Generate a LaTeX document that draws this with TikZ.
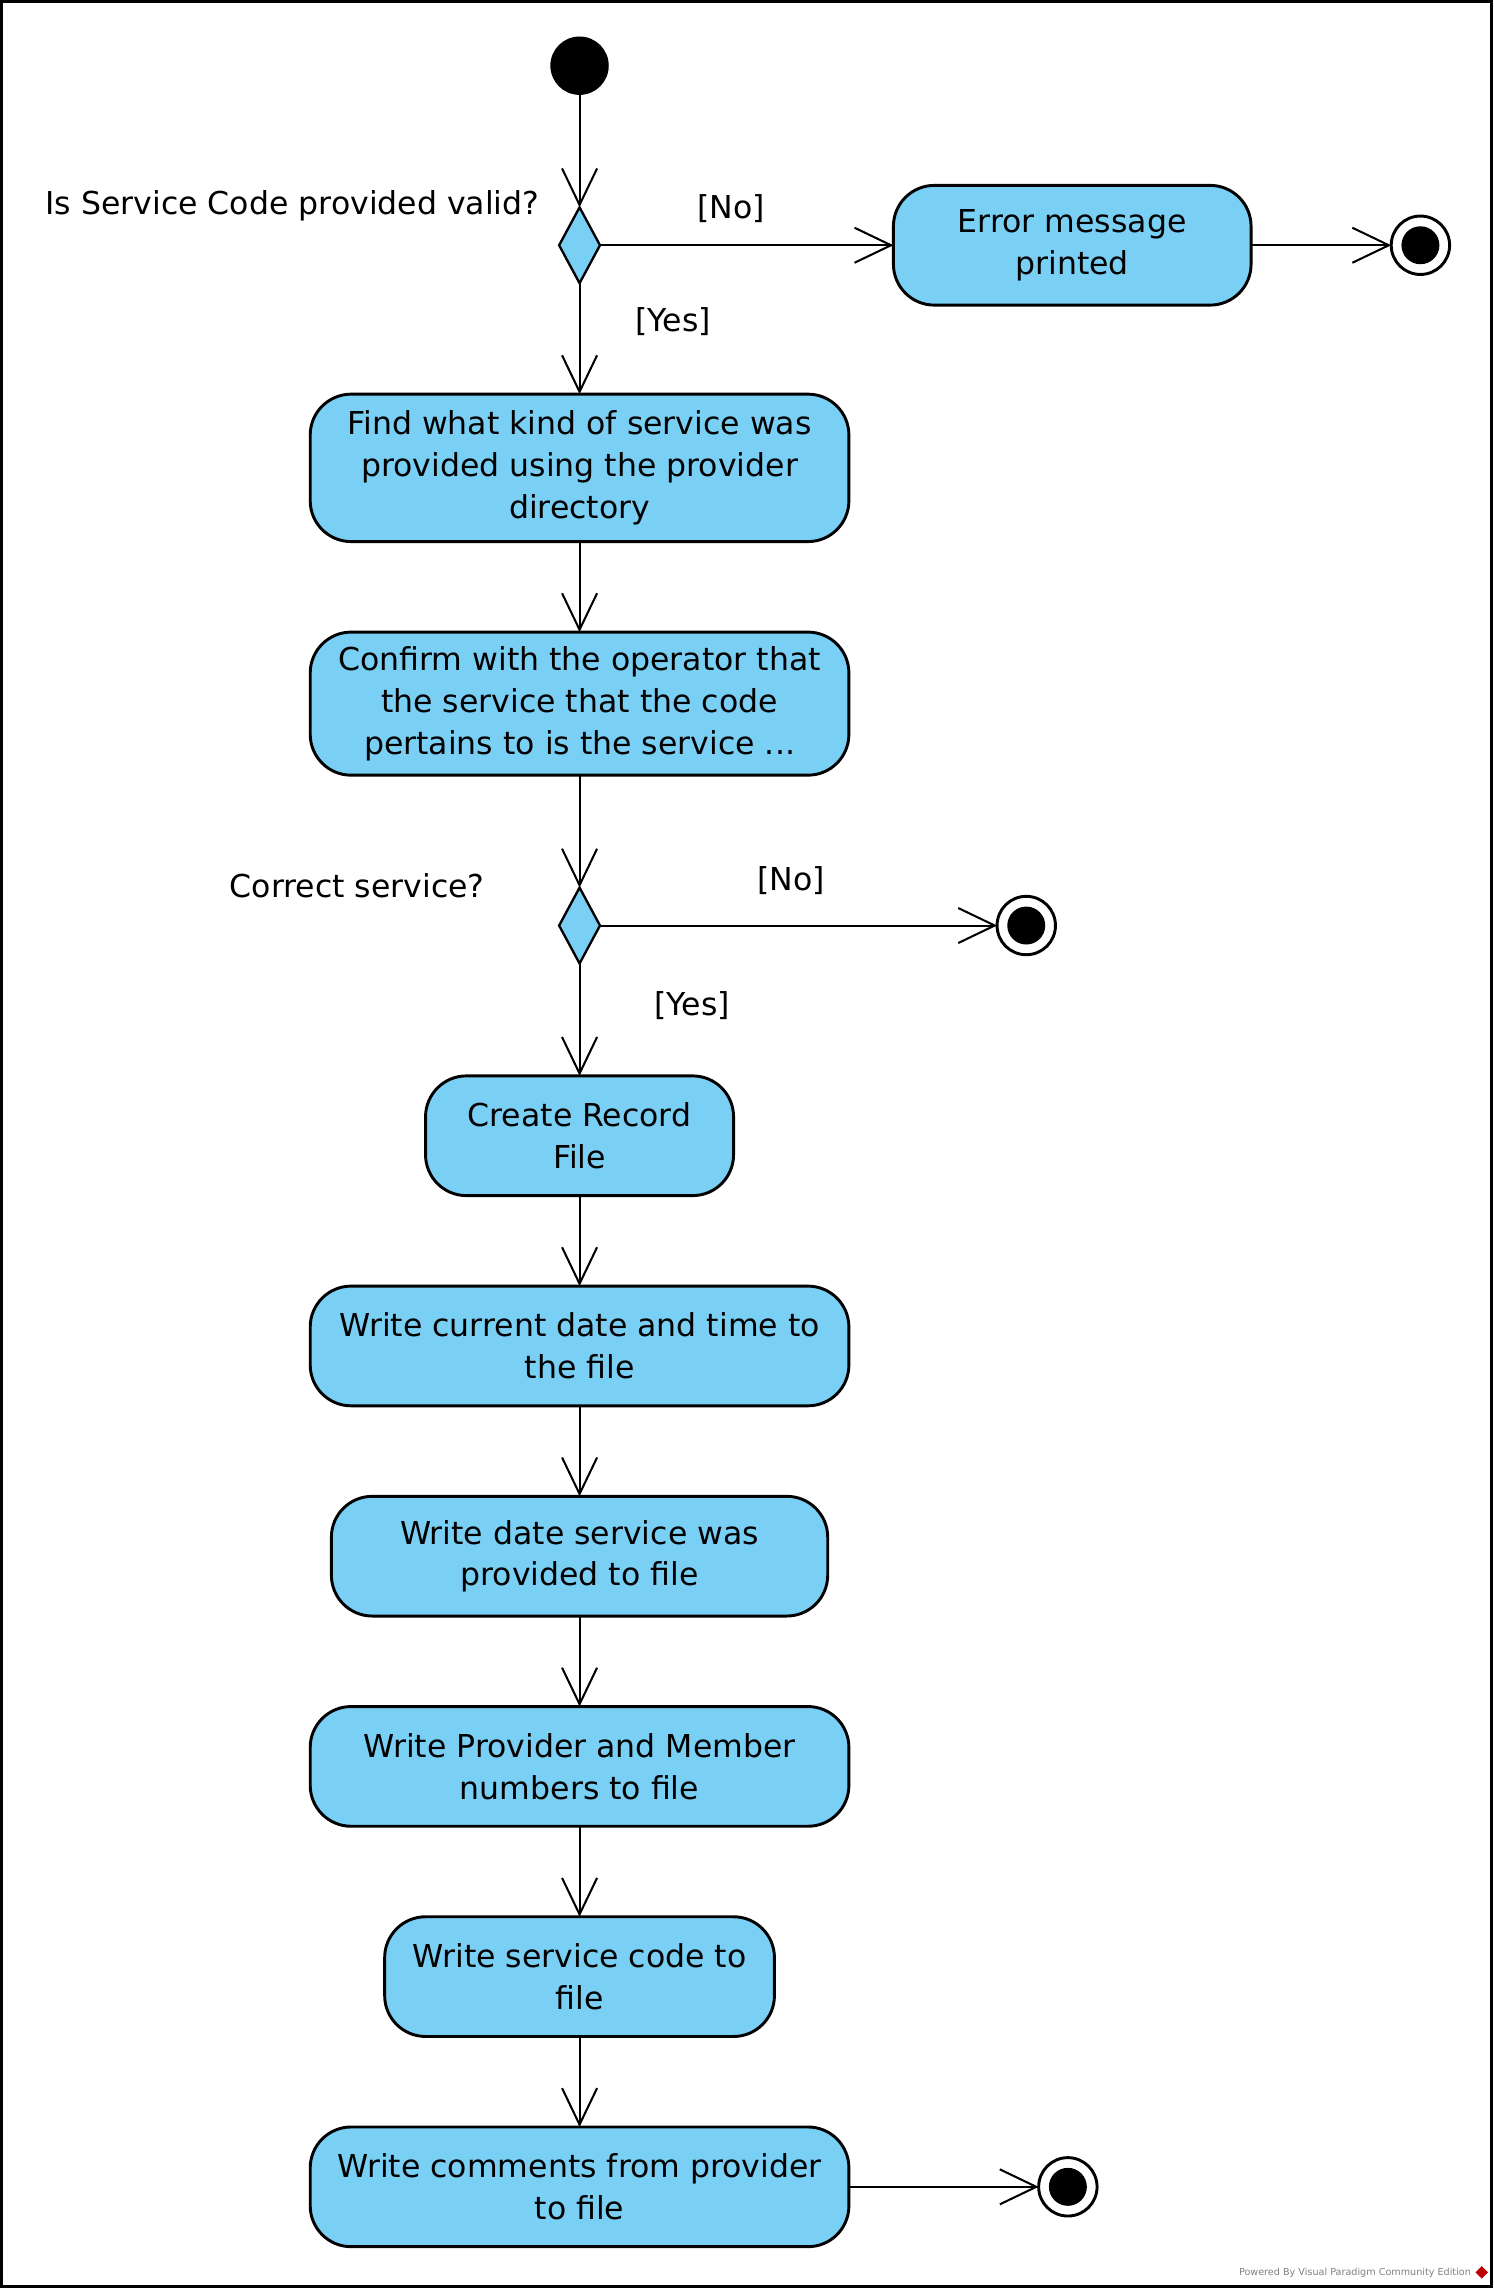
\documentclass[tikz,border=0pt]{standalone}
\usepackage{fontspec}
\setmainfont{DejaVu Sans}
\usetikzlibrary{arrows.meta, positioning, shapes.geometric}
\definecolor{actblue}{RGB}{122,207,245}

\begin{document}
\begin{tikzpicture}
        [font=\fontsize{10.8}{14.3}\selectfont,
         actsty/.style={rectangle,
                        rounded corners=14pt,
                        align=center,
                        minimum height=41pt,
                        outer sep=0pt,
                        line width=1pt,
                        draw=black,
                        fill=actblue},
         decsty/.style={diamond,
                        inner sep=0pt,
                        outer sep=0pt,
                        minimum width=14pt,
                        minimum height=26pt,
                        line width=0.8pt,
                        draw=black,
                        fill=actblue},
         startsty/.style={circle,
                          inner sep=0pt,
                          outer sep=0pt,
                          minimum size=20pt,
                          fill=black},
         endsty/.style={circle,
                        inner sep=0pt,
                        outer sep=0pt,
                        minimum size=20pt,
                        line width=1pt,
                        draw=black,
                        fill=white,
                        path picture={\fill[black] (path picture bounding box.center) circle (6.5pt);}},
         pre/.style={<-, >={Straight Barb[length=12.5pt, width=12pt]}, line width=0.7pt}]

        \useasboundingbox (0pt, 0pt) rectangle (511.7pt, -784pt);
        \draw[line width=1pt] (0.5pt, -0.5pt) rectangle (510.7pt, -783pt);

        \coordinate (start coord) at (198.5pt, -22.5pt);
        \newcommand{\actgap}{31pt}
        \newcommand{\decgap}{38.5pt}

        \node[startsty] (start) at (start coord) {};

        \node[decsty, anchor=north] (valid dec) at (start.south) [yshift=-\decgap] {}
                edge [pre] (start);

        \node[anchor=east] (valid label) at (valid dec.west) [xshift=-3.2pt, yshift=13.5pt]
                {Is Service Code provided valid?};

        \node[actsty, anchor=west, minimum width=122.5pt] (error act) at (valid dec.east) [xshift=100.5pt]
                {Error message\\printed}
                edge [pre] (valid dec);

        \node (valid no) at (valid dec.east) [xshift=45pt, yshift=12.5pt] {[No]};

        \node[endsty, anchor=west] (error end) at (error act.east) [xshift=48pt] {}
                edge [pre] (error act);

        \node[actsty, anchor=north, minimum width=184.5pt, minimum height=50.5pt] (find act)
                at (valid dec.south) [yshift=-38pt]
                {Find what kind of service was\\provided using the provider\\directory}
                edge [pre] (valid dec);

        \node (valid yes) at (valid dec.south) [xshift=32pt, yshift=-13pt] {[Yes]};

        \node[actsty, anchor=north, minimum width=184.5pt, minimum height=49pt] (confirm act)
                at (find act.south) [yshift=-\actgap]
                {Confirm with the operator that\\the service that the code\\pertains to is the service ...}
                edge [pre] (find act);

        \node[decsty, anchor=north] (service dec) at (confirm act.south) [yshift=-\decgap] {}
                edge [pre] (confirm act);

        \node[anchor=east] (service label) at (service dec.west) [xshift=-22pt, yshift=13.5pt]
                {Correct service?};

        \node[endsty, anchor=west] (service end) at (service dec.east) [xshift=136pt] {}
                edge [pre] (service dec);

        \node (service no) at (service dec.east) [xshift=65.5pt, yshift=15.5pt] {[No]};

        \node[actsty, anchor=north, minimum width=105.5pt] (record act)
                at (service dec.south) [yshift=-\decgap]
                {Create Record\\File}
                edge [pre] (service dec);

        \node (service yes) at (service dec.south) [xshift=38.5pt, yshift=-14.5pt] {[Yes]};

        \node[actsty, anchor=north, minimum width=184.5pt] (date act)
                at (record act.south) [yshift=-\actgap]
                {Write current date and time to\\the file}
                edge [pre] (record act);

        \node[actsty, anchor=north, minimum width=170pt] (served act)
                at (date act.south) [yshift=-\actgap]
                {Write date service was\\provided to file}
                edge [pre] (date act);

        \node[actsty, anchor=north, minimum width=184.5pt] (numbers act)
                at (served act.south) [yshift=-\actgap]
                {Write Provider and Member\\numbers to file}
                edge [pre] (served act);

        \node[actsty, anchor=north, minimum width=133.5pt] (code act)
                at (numbers act.south) [yshift=-\actgap]
                {Write service code to\\file}
                edge [pre] (numbers act);

        \node[actsty, anchor=north, minimum width=184.5pt] (comments act)
                at (code act.south) [yshift=-\actgap]
                {Write comments from provider\\to file}
                edge [pre] (code act);

        \node[endsty, anchor=west] (comments end) at (comments act.east) [xshift=65pt] {}
                edge [pre] (comments act);

        % watermark
        \node[anchor=east, inner sep=0pt, text=gray, font=\fontsize{3.3}{4}\selectfont] (vp note)
                at (504pt, -778.5pt) {Powered By Visual Paradigm Community Edition};
        \node[diamond, inner sep=0pt, minimum size=4.5pt, fill=red!75!black] (vp logo)
                at (507.5pt, -778.3pt) {};
\end{tikzpicture}
\end{document}
